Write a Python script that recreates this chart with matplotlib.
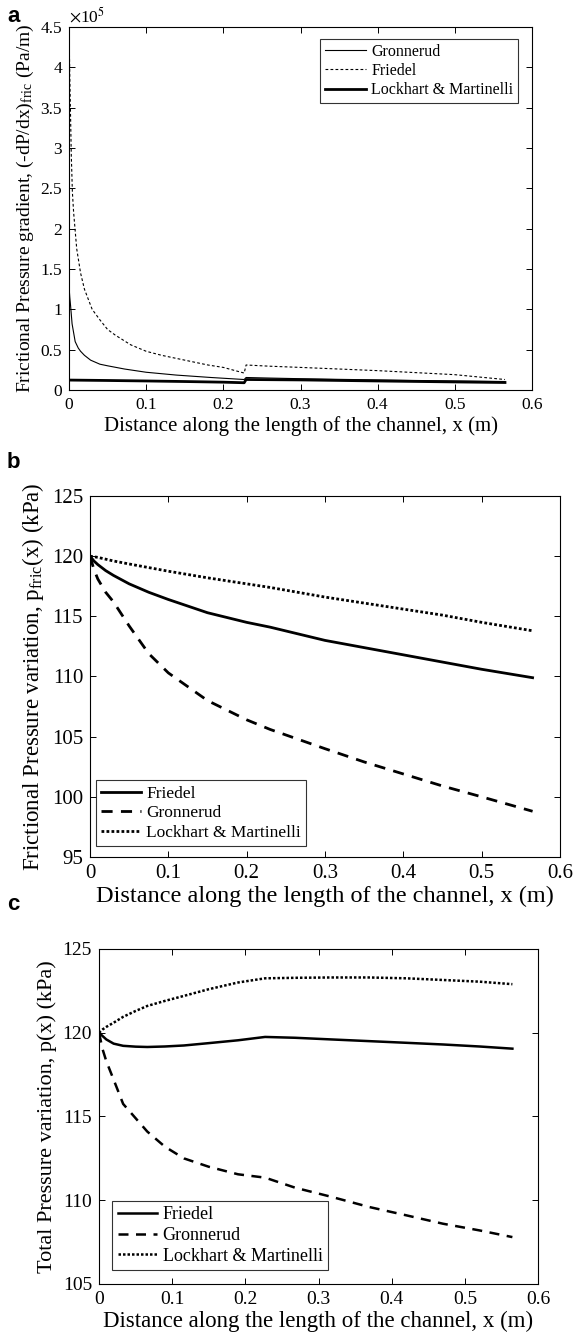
import matplotlib
matplotlib.use("Agg")
import matplotlib.pyplot as plt
import numpy as np

plt.rcParams['font.family'] = ['Liberation Serif', 'DejaVu Serif']
plt.rcParams['mathtext.fontset'] = 'stix'

# ---------------- Panel a: frictional pressure gradient (x10^5 Pa/m) ----------------
a_gron_x = [0.0, 0.001, 0.002, 0.004, 0.008, 0.012, 0.015, 0.02, 0.028, 0.04, 0.05, 0.072, 0.1, 0.139, 0.184, 0.227,
            0.2295, 0.26, 0.3, 0.35, 0.4, 0.45, 0.5, 0.565]
a_gron_y = [1.29, 1.15, 1.05, 0.82, 0.60, 0.52, 0.48, 0.43, 0.37, 0.32, 0.30, 0.26, 0.22, 0.185, 0.155, 0.13,
            0.155, 0.148, 0.14, 0.132, 0.125, 0.118, 0.112, 0.105]
a_fried_x = [0.0, 0.0005, 0.001, 0.002, 0.003, 0.0044, 0.006, 0.01, 0.015, 0.02, 0.03, 0.04, 0.05, 0.06, 0.08, 0.1,
             0.12, 0.15, 0.18, 0.2, 0.227, 0.2295, 0.26, 0.3, 0.35, 0.4, 0.45, 0.5, 0.565]
a_fried_y = [4.6, 4.2, 3.9, 3.4, 2.9, 2.45, 2.2, 1.75, 1.45, 1.25, 1.0, 0.87, 0.75, 0.68, 0.56, 0.48,
             0.43, 0.37, 0.31, 0.28, 0.21, 0.31, 0.295, 0.28, 0.26, 0.24, 0.215, 0.19, 0.13]
a_lm_x = [0.0, 0.05, 0.1, 0.15, 0.2, 0.227, 0.2295, 0.3, 0.4, 0.5, 0.565]
a_lm_y = [0.123, 0.118, 0.112, 0.105, 0.097, 0.09, 0.13, 0.125, 0.112, 0.1, 0.093]

# ---------------- Panel b: frictional pressure variation (kPa) ----------------
b_x = [0.0, 0.005, 0.01, 0.02, 0.03, 0.05, 0.075, 0.1, 0.15, 0.2, 0.23, 0.3, 0.35, 0.4, 0.45, 0.5, 0.565]
b_fried = [120.0, 119.6, 119.3, 118.8, 118.4, 117.7, 117.0, 116.4, 115.3, 114.5, 114.1, 113.0, 112.4, 111.8, 111.2, 110.6, 109.9]
b_gron = [120.0, 118.9, 118.1, 117.0, 116.2, 114.2, 111.9, 110.3, 108.0, 106.4, 105.6, 104.0, 102.9, 101.9, 100.9, 100.0, 98.8]
b_lm = [120.0, 119.95, 119.9, 119.75, 119.6, 119.35, 119.05, 118.75, 118.2, 117.7, 117.4, 116.6, 116.1, 115.6, 115.1, 114.5, 113.8]

# ---------------- Panel c: total pressure variation (kPa) ----------------
c_x = [0.0, 0.005, 0.01, 0.02, 0.033, 0.05, 0.066, 0.09, 0.116, 0.15, 0.19, 0.227, 0.268, 0.318, 0.369, 0.42, 0.47, 0.52, 0.565]
c_fried = [120.0, 119.8, 119.6, 119.35, 119.22, 119.17, 119.15, 119.18, 119.24, 119.38, 119.55, 119.75, 119.7, 119.6, 119.5, 119.4, 119.3, 119.18, 119.05]
c_gron = [120.0, 119.0, 118.3, 117.2, 115.75, 114.9, 114.1, 113.2, 112.5, 112.0, 111.55, 111.35, 110.75, 110.2, 109.6, 109.1, 108.6, 108.2, 107.8]
c_lm = [120.0, 120.2, 120.35, 120.6, 120.95, 121.3, 121.6, 121.9, 122.2, 122.6, 123.0, 123.25, 123.28, 123.3, 123.3, 123.25, 123.15, 123.05, 122.9]

xticks = [0, 0.1, 0.2, 0.3, 0.4, 0.5, 0.6]
xtick_labels = ['0', '0.1', '0.2', '0.3', '0.4', '0.5', '0.6']
a_yticks = [0, 0.5, 1, 1.5, 2, 2.5, 3, 3.5, 4, 4.5]
a_ytick_labels = ['0', '0.5', '1', '1.5', '2', '2.5', '3', '3.5', '4', '4.5']
b_yticks = [95, 100, 105, 110, 115, 120, 125]
c_yticks = [105, 110, 115, 120, 125]
xlabel = 'Distance along the length of the channel, x (m)'

fig = plt.figure(figsize=(5.77, 13.42), dpi=100)


def style(ax, fs):
    ax.tick_params(direction='in', top=True, right=True, labelsize=fs, length=4, width=0.7, pad=5)
    for s in ax.spines.values():
        s.set_linewidth(0.8)
        s.set_color('black')


def legend(ax, fs, **kw):
    leg = ax.legend(fontsize=fs, frameon=True, fancybox=False, edgecolor='black', handletextpad=0.3,
                    borderpad=0.3, labelspacing=0.2, borderaxespad=0, **kw)
    leg.get_frame().set_linewidth(0.8)
    return leg


# Panel a
axa = fig.add_axes([69 / 577, 1 - 390 / 1342, (532 - 69) / 577, (390 - 27) / 1342])
axa.plot(a_gron_x, a_gron_y, color='black', lw=0.8, label='Gronnerud')
axa.plot(a_fried_x, a_fried_y, color='black', lw=0.8, ls=(0, (2.5, 2)), label='Friedel')
axa.plot(a_lm_x, a_lm_y, color='black', lw=2.0, label='Lockhart & Martinelli')
axa.set_xlim(0, 0.6)
axa.set_ylim(0, 4.5)
axa.set_xticks(xticks)
axa.set_xticklabels(xtick_labels)
axa.set_yticks(a_yticks)
axa.set_yticklabels(a_ytick_labels)
style(axa, 12.5)
axa.set_xlabel(xlabel, fontsize=15, labelpad=2)
axa.set_ylabel(r'Frictional Pressure gradient, (-dP/dx)$_{\mathregular{fric}}$ (Pa/m)', fontsize=14, labelpad=3)
axa.text(0.0, 1.003, r'$\times$10$^{5}$', transform=axa.transAxes, fontsize=12.5, va='bottom', ha='left')
legend(axa, 11.5, loc='upper right', bbox_to_anchor=(0.97, 0.967), handlelength=2.6)
fig.text(7 / 577, 1 - 16 / 1342, 'a', fontsize=16, fontweight='bold', family='Liberation Sans', va='center')

# Panel b
axb = fig.add_axes([90 / 577, 1 - 857 / 1342, (560 - 90) / 577, (857 - 496) / 1342])
axb.plot(b_x, b_fried, color='black', lw=2.0, label='Friedel')
axb.plot(b_x, b_gron, color='black', lw=2.0, ls=(0, (4, 3)), label='Gronnerud')
axb.plot(b_x, b_lm, color='black', lw=2.0, ls=(0, (1, 0.8)), label='Lockhart & Martinelli')
axb.set_xlim(0, 0.6)
axb.set_ylim(95, 125)
axb.set_xticks(xticks)
axb.set_xticklabels(xtick_labels)
axb.set_yticks(b_yticks)
style(axb, 15)
axb.set_xlabel(xlabel, fontsize=17.5, labelpad=2)
axb.set_ylabel(r'Frictional Pressure variation, p$_{\mathregular{fric}}$(x) (kPa)', fontsize=16.5, labelpad=4)
legend(axb, 12.5, loc='lower left', bbox_to_anchor=(0.012, 0.03), handlelength=2.3)
fig.text(7 / 577, 1 - 463 / 1342, 'b', fontsize=16, fontweight='bold', family='Liberation Sans', va='center')

# Panel c
axc = fig.add_axes([99 / 577, 1 - 1284 / 1342, (538 - 99) / 577, (1284 - 949) / 1342])
axc.plot(c_x, c_fried, color='black', lw=1.8, label='Friedel')
axc.plot(c_x, c_gron, color='black', lw=1.8, ls=(0, (4, 3)), label='Gronnerud')
axc.plot(c_x, c_lm, color='black', lw=1.8, ls=(0, (1, 0.8)), label='Lockhart & Martinelli')
axc.set_xlim(0, 0.6)
axc.set_ylim(105, 125)
axc.set_xticks(xticks)
axc.set_xticklabels(xtick_labels)
axc.set_yticks(c_yticks)
style(axc, 14)
axc.set_xlabel(xlabel, fontsize=16.5, labelpad=2)
axc.set_ylabel('Total Pressure variation, p(x) (kPa)', fontsize=16, labelpad=4)
legend(axc, 13, loc='lower left', bbox_to_anchor=(0.03, 0.042), handlelength=2.2)
fig.text(7 / 577, 1 - 905 / 1342, 'c', fontsize=16, fontweight='bold', family='Liberation Sans', va='center')

fig.savefig('out.png', dpi=100)
